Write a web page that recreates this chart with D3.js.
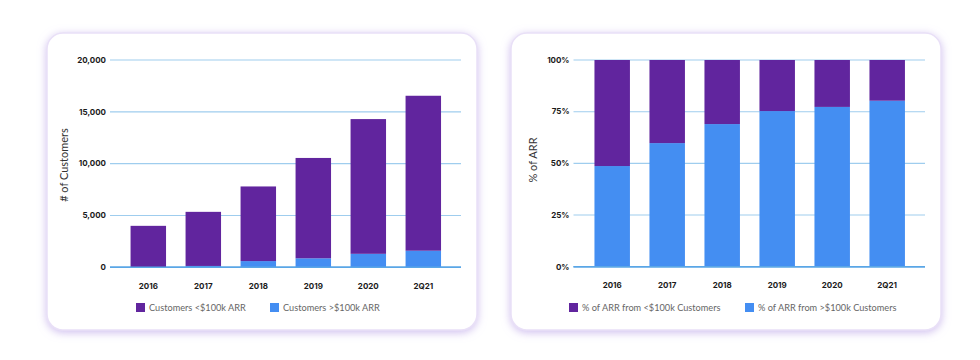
<!DOCTYPE html>
<html>
<head>
<meta charset="utf-8">
<script src="https://cdnjs.cloudflare.com/ajax/libs/d3/7.8.5/d3.min.js"></script>
<style>
  html, body { margin: 0; padding: 0; background: #ffffff; }
  svg { display: block; }
</style>
</head>
<body>
<svg id="chart" width="980" height="360"></svg>
<script>
// ---- data ----
const categories = ["2016", "2017", "2018", "2019", "2020", "2Q21"];
// Left chart: number of customers
const customersUnder100k = [3970, 5220, 7200, 9680, 13000, 14950];
const customersOver100k = [30, 130, 600, 870, 1300, 1600];
const leftTicks = [0, 5000, 10000, 15000, 20000];
const leftSeriesNames = ["Customers <$100k ARR", "Customers >$100k ARR"];
// Right chart: share of ARR (%)
const arrOver100kPct = [48.7, 59.8, 69.0, 75.3, 77.3, 80.3];
const arrUnder100kPct = [51.3, 40.2, 31.0, 24.7, 22.7, 19.7];
const rightTicks = [0, 25, 50, 75, 100];
const rightSeriesNames = ["% of ARR from <$100k Customers", "% of ARR from >$100k Customers"];

const PURPLE = "#61259e";
const BLUE = "#448ef2";
const GRID = "#9fcdee";
const BASE = "#5aa6e6";

const svg = d3.select("#chart");
const defs = svg.append("defs");
const f = defs.append("filter").attr("id", "glow")
  .attr("x", "-10%").attr("y", "-10%").attr("width", "120%").attr("height", "125%");
f.append("feDropShadow").attr("dx", 0).attr("dy", 2).attr("stdDeviation", 4.5)
  .attr("flood-color", "#b59ce6").attr("flood-opacity", 0.65);

function card(x, y, w, h) {
  svg.append("rect").attr("x", x).attr("y", y).attr("width", w).attr("height", h)
    .attr("rx", 16).attr("ry", 16).attr("fill", "#fff")
    .attr("stroke", "#e9e0f7").attr("stroke-width", 1.5)
    .attr("filter", "url(#glow)");
}

function drawChart(opts) {
  const g = svg.append("g");
  const x = d3.scaleBand().domain(categories)
    .range([opts.bandStart, opts.bandStart + 55 * categories.length])
    .paddingInner(0.355).paddingOuter(0.1775);
  const y = d3.scaleLinear().domain(opts.domain).range([opts.yBottom, opts.yTop]);

  // gridlines
  g.selectAll(".grid").data(opts.ticks).enter().append("line")
    .attr("x1", opts.plotLeft).attr("x2", opts.plotRight)
    .attr("y1", d => y(d)).attr("y2", d => y(d))
    .attr("stroke", d => d === 0 ? BASE : GRID)
    .attr("stroke-width", d => d === 0 ? 1.6 : 1.1);

  // y tick labels
  g.selectAll(".ytick").data(opts.ticks).enter().append("text")
    .attr("x", opts.plotLeft - 4).attr("y", d => y(d)).attr("dy", "0.35em")
    .attr("text-anchor", "end")
    .attr("font-family", "Inter, 'DejaVu Sans', sans-serif").attr("font-weight", 700)
    .attr("font-size", 8).attr("fill", "#1a1a1a")
    .text(opts.tickFormat);

  // stacked bars
  const rows = categories.map((c, i) => ({ cat: c, a: opts.bottom[i], b: opts.top[i] }));
  g.selectAll(".barBottom").data(rows).enter().append("rect")
    .attr("x", d => x(d.cat)).attr("width", x.bandwidth())
    .attr("y", d => y(d.a)).attr("height", d => y(0) - y(d.a))
    .attr("fill", BLUE);
  g.selectAll(".barTop").data(rows).enter().append("rect")
    .attr("x", d => x(d.cat)).attr("width", x.bandwidth())
    .attr("y", d => y(d.a + d.b)).attr("height", d => y(d.a) - y(d.a + d.b))
    .attr("fill", PURPLE);

  // redraw baseline on top
  g.append("line").attr("x1", opts.plotLeft).attr("x2", opts.plotRight)
    .attr("y1", y(0)).attr("y2", y(0)).attr("stroke", BASE).attr("stroke-width", 1.6);

  // x labels
  g.selectAll(".xtick").data(categories).enter().append("text")
    .attr("x", d => x(d) + x.bandwidth() / 2).attr("y", opts.yBottom + 21.5)
    .attr("text-anchor", "middle")
    .attr("font-family", "Inter, 'DejaVu Sans', sans-serif").attr("font-weight", 700)
    .attr("font-size", 8).attr("fill", "#1a1a1a")
    .text(d => d);

  // y title
  g.append("text")
    .attr("transform", `translate(${opts.titleX},${opts.titleY}) rotate(-90)`)
    .attr("text-anchor", "middle").attr("dy", "0.35em")
    .attr("font-family", "Lato, 'Open Sans', sans-serif")
    .attr("font-size", 11).attr("fill", "#333")
    .text(opts.title);

  // legend
  const colors = [PURPLE, BLUE];
  opts.legend.forEach((name, i) => {
    const lx = opts.legendX[i];
    g.append("rect").attr("x", lx).attr("y", 303).attr("width", 9).attr("height", 9)
      .attr("fill", colors[i]);
    g.append("text").attr("x", lx + 13).attr("y", 307.5).attr("dy", "0.35em")
      .attr("font-family", "Lato, 'Open Sans', sans-serif")
      .attr("font-size", 9.2).attr("fill", "#666")
      .text(name);
  });
}

card(47, 33, 430, 297);
card(511, 33, 430, 297);

drawChart({
  domain: [0, 20000], ticks: leftTicks,
  tickFormat: d => d3.format(",")(d),
  bottom: customersOver100k, top: customersUnder100k,
  bandStart: 120.8, plotLeft: 110, plotRight: 461,
  yTop: 60, yBottom: 267.3,
  titleX: 64, titleY: 165, title: "# of Customers",
  legend: leftSeriesNames, legendX: [136, 270]
});

drawChart({
  domain: [0, 100], ticks: rightTicks,
  tickFormat: d => d + "%",
  bottom: arrOver100kPct, top: arrUnder100kPct,
  bandStart: 584.7, plotLeft: 573.5, plotRight: 925,
  yTop: 60, yBottom: 266.7,
  titleX: 533, titleY: 160, title: "% of ARR",
  legend: rightSeriesNames, legendX: [569, 745]
});
</script>
</body>
</html>
